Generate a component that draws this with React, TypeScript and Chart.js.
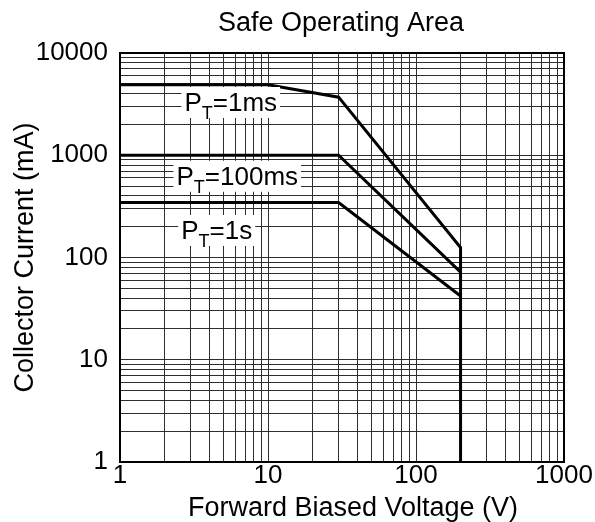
import { useEffect, useRef } from 'react';
import { Chart, registerables } from 'chart.js';

Chart.register(...registerables);

// ---- data ----
const X_DECADES = [1, 10, 100, 1000];
const Y_DECADES = [1, 10, 100, 1000, 10000];
const MINOR_STEPS = [2, 3, 4, 5, 6, 7, 8, 9];

const V_1MS = [1, 10, 30, 200, 200];
const I_1MS = [4900, 4900, 3700, 125, 1];
const V_100MS = [1, 30, 200];
const I_100MS = [1000, 1000, 72];
const V_1S = [1, 30, 200];
const I_1S = [345, 345, 42];

const LABEL_TEXT = ['=1ms', '=100ms', '=1s'];
const LABEL_V = [5.6, 6.2, 4.5];
const LABEL_I = [3320, 630, 186];

const TITLE = 'Safe Operating Area';
const X_TITLE = 'Forward Biased Voltage (V)';
const Y_TITLE = 'Collector Current (mA)';

function gridValues(decades: number[]): number[] {
  const out: number[] = [];
  decades.forEach((d, i) => {
    out.push(d);
    if (i < decades.length - 1) MINOR_STEPS.forEach((m) => out.push(d * m));
  });
  return out;
}

const pts = (xs: number[], ys: number[]) => xs.map((x, i) => ({ x, y: ys[i] }));

const FONT = '"Liberation Sans", Arial, Helvetica, sans-serif';

export default function App() {
  const ref = useRef<HTMLCanvasElement>(null);

  useEffect(() => {
    const canvas = ref.current!;
    const textPlugin = {
      id: 'soaText',
      afterDatasetsDraw(chart: any) {
        const ctx = chart.ctx as CanvasRenderingContext2D;
        const xs = chart.scales.x;
        const ys = chart.scales.y;
        ctx.save();
        LABEL_TEXT.forEach((t, i) => {
          const cx = xs.getPixelForValue(LABEL_V[i]);
          const cy = ys.getPixelForValue(LABEL_I[i]);
          const big = 26;
          const small = 18;
          ctx.font = `${big}px ${FONT}`;
          const wP = ctx.measureText('P').width;
          const wRest = ctx.measureText(t).width;
          ctx.font = `${small}px ${FONT}`;
          const wT = ctx.measureText('T').width;
          const total = wP + wT + wRest;
          const left = cx - total / 2;
          const base = cy + (big * 0.716) / 2;
          ctx.fillStyle = '#ffffff';
          ctx.fillRect(left - 3, cy - 15, total + 6, 31);
          ctx.fillStyle = '#000000';
          ctx.textAlign = 'left';
          ctx.textBaseline = 'alphabetic';
          ctx.font = `${big}px ${FONT}`;
          ctx.fillText('P', left, base);
          ctx.font = `${small}px ${FONT}`;
          ctx.fillText('T', left + wP, base + 8);
          ctx.font = `${big}px ${FONT}`;
          ctx.fillText(t, left + wP + wT, base);
        });
        ctx.restore();
      },
      afterDraw(chart: any) {
        const ctx = chart.ctx as CanvasRenderingContext2D;
        const a = chart.chartArea;
        ctx.save();
        ctx.strokeStyle = '#000';
        ctx.lineWidth = 2;
        ctx.strokeRect(a.left, a.top, a.right - a.left, a.bottom - a.top);
        ctx.fillStyle = '#000';
        ctx.textBaseline = 'alphabetic';
        ctx.textAlign = 'center';
        ctx.font = `27px ${FONT}`;
        const cx = (a.left + a.right) / 2;
        ctx.fillText(TITLE, cx - 1, 31);
        ctx.fillText(X_TITLE, cx + 11, 516);
        ctx.translate(33, (a.top + a.bottom) / 2);
        ctx.rotate(-Math.PI / 2);
        ctx.fillText(Y_TITLE, 0, 0);
        ctx.restore();
      },
    };

    const lineStyle = {
      borderColor: '#000',
      borderWidth: 3,
      pointRadius: 0,
      showLine: true,
      fill: false,
      tension: 0,
    };

    const chart = new Chart(canvas, {
      type: 'scatter',
      data: {
        datasets: [
          { label: '1ms', data: pts(V_1MS, I_1MS), ...lineStyle },
          { label: '100ms', data: pts(V_100MS, I_100MS), ...lineStyle },
          { label: '1s', data: pts(V_1S, I_1S), ...lineStyle },
        ],
      },
      options: {
        responsive: false,
        animation: false,
        layout: { padding: { top: 53, right: 31, bottom: 0, left: 0 } },
        plugins: {
          legend: { display: false },
          title: { display: false },
          tooltip: { enabled: false },
        },
        scales: {
          x: {
            type: 'logarithmic',
            min: 1,
            max: 1000,
            afterBuildTicks: (s: any) => {
              s.ticks = gridValues(X_DECADES).map((v) => ({ value: v }));
            },
            afterFit: (s: any) => {
              s.height = 60;
            },
            ticks: {
              autoSkip: false,
              maxRotation: 0,
              padding: 1,
              color: '#000',
              font: { family: FONT, size: 26, lineHeight: 1 },
              callback: (v: any) => (X_DECADES.includes(Number(v)) ? String(v) : ''),
            },
            grid: { color: '#2e2e2e', lineWidth: 1, drawTicks: false },
            border: { display: false },
          },
          y: {
            type: 'logarithmic',
            min: 1,
            max: 10000,
            afterBuildTicks: (s: any) => {
              s.ticks = gridValues(Y_DECADES).map((v) => ({ value: v }));
            },
            afterFit: (s: any) => {
              s.width = 120;
            },
            ticks: {
              autoSkip: false,
              padding: 12,
              color: '#000',
              font: { family: FONT, size: 26, lineHeight: 1 },
              callback: (v: any) => (Y_DECADES.includes(Number(v)) ? String(v) : ''),
            },
            grid: { color: '#2e2e2e', lineWidth: 1, drawTicks: false },
            border: { display: false },
          },
        },
      },
      plugins: [textPlugin],
    } as any);

    return () => chart.destroy();
  }, []);

  return (
    <canvas
      ref={ref}
      width={595}
      height={522}
      style={{ position: 'absolute', left: 0, top: 0, background: '#fff' }}
    />
  );
}
